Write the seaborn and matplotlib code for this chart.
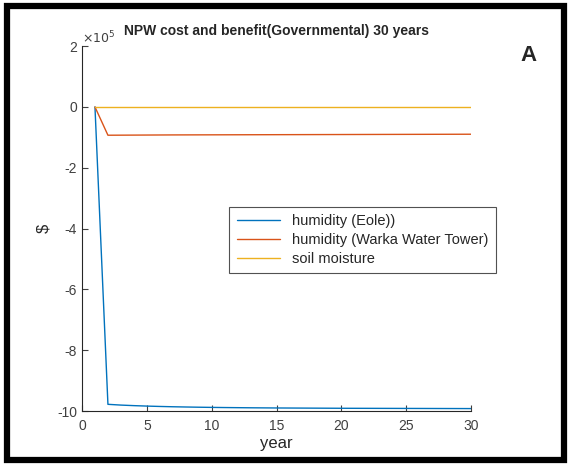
import pandas as pd
import matplotlib
matplotlib.use("Agg")
import matplotlib.pyplot as plt
import matplotlib.ticker as mticker
from matplotlib.patches import Rectangle
import seaborn as sns

# values (dollars)
years = list(range(1, 31))
eole = [0, -978000, -980500, -982300, -983800, -985000, -986000, -986800, -987500, -988100,
        -988600, -989000, -989400, -989700, -990000, -990200, -990400, -990600, -990800, -991000,
        -991100, -991200, -991300, -991400, -991500, -991600, -991700, -991800, -991900, -992000]
warka = [0, -93000, -92800, -92600, -92400, -92200, -92000, -91900, -91800, -91700,
         -91600, -91500, -91400, -91300, -91200, -91100, -91000, -90900, -90800, -90700,
         -90600, -90500, -90400, -90300, -90200, -90100, -90000, -89900, -89800, -89700]
soil = [0, 0, 0, 0, 0, 0, 0, 0, 0, 0,
        0, 0, 0, 0, 0, 0, 0, 0, 0, 0,
        0, 0, 0, 0, 0, 0, 0, 0, 0, 0]
labels = ["humidity (Eole))", "humidity (Warka Water Tower)", "soil moisture"]
colors = ["#0072BD", "#D95319", "#EDB120"]

df = pd.concat([
    pd.DataFrame({"year": years, "value": eole, "series": labels[0]}),
    pd.DataFrame({"year": years, "value": warka, "series": labels[1]}),
    pd.DataFrame({"year": years, "value": soil, "series": labels[2]}),
])

sns.set_style("ticks")
plt.rcParams["font.family"] = ["Liberation Sans", "DejaVu Sans"]

fig = plt.figure(figsize=(5.71, 4.66), dpi=100)
ax = fig.add_axes([0.1436, 0.118, 0.6813, 0.783])

sns.lineplot(data=df, x="year", y="value", hue="series", palette=colors,
             linewidth=1, ax=ax)

ax.set_xlim(0, 30)
ax.set_ylim(-10e5, 2e5)
ax.set_xticks([0, 5, 10, 15, 20, 25, 30])
ax.set_yticks([-10e5, -8e5, -6e5, -4e5, -2e5, 0, 2e5])
ax.yaxis.set_major_formatter(mticker.FuncFormatter(lambda v, p: "%d" % round(v / 1e5)))
ax.text(0.0, 1.0, r"$\times10^5$", transform=ax.transAxes, fontsize=9,
        color="#404040", ha="left", va="bottom")
ax.tick_params(direction="in", labelsize=10, colors="#404040", length=4)
ax.tick_params(axis="x", pad=6)
sns.despine(ax=ax)
for s in ["left", "bottom"]:
    ax.spines[s].set_color("#262626")
    ax.spines[s].set_linewidth(0.8)

ax.set_xlabel("year", fontsize=12, color="#262626", labelpad=2)
ax.set_ylabel("$", fontsize=12, color="#262626")
ax.set_title("NPW cost and benefit(Governmental) 30 years", fontsize=10,
             fontweight="bold", pad=8)
fig.text(0.925, 0.88, "A", fontsize=16, fontweight="bold", ha="center", va="center")

leg = ax.legend(loc="upper left", bbox_to_anchor=(0.36, 0.58), fontsize=10.5,
                frameon=True, fancybox=False, edgecolor="#262626",
                handlelength=3.0, borderpad=0.5, labelspacing=0.35)
leg.get_frame().set_linewidth(0.8)

fig.patches.append(Rectangle((0.012, 0.012), 0.976, 0.976, transform=fig.transFigure,
                             fill=False, edgecolor="black", linewidth=4.5))

fig.savefig("out.png", dpi=100)
